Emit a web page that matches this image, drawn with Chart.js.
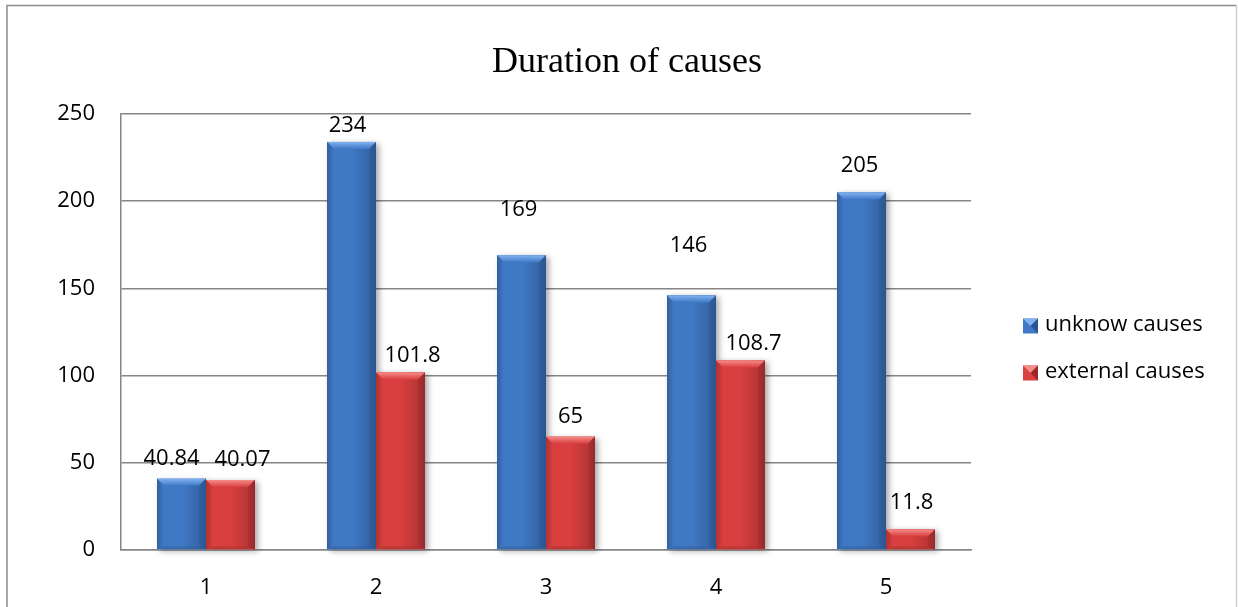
<!DOCTYPE html>
<html>
<head>
<meta charset="utf-8">
<title>Duration of causes</title>
<script src="https://cdn.jsdelivr.net/npm/chart.js@4.4.1/dist/chart.umd.min.js"></script>
<style>
  html, body { margin: 0; padding: 0; background: #fff; }
  #wrap { position: relative; width: 1238px; height: 607px; }
</style>
</head>
<body>
<div id="wrap"><canvas id="chart" width="1238" height="607"></canvas></div>
<script>
// Chart content
const chartTitle = 'Duration of causes';
const categories = ['1', '2', '3', '4', '5'];
const seriesNames = ['unknow causes', 'external causes'];
const unknowCauses = [40.84, 234, 169, 146, 205];
const externalCauses = [40.07, 101.8, 65, 108.7, 11.8];
const yTicks = [0, 50, 100, 150, 200, 250];

// Value label placement: shift (px) from the top-centre of each bar
const labelShift = [
  { dx: [-10, -4, -3, -3, -2], dy: [-20, -16, -46, -50, -27] },
  { dx: [12, 12, 0, 13, 1], dy: [-20, -17, -20, -17, -27] }
];

const FONT = '"Open Sans", "Liberation Sans", sans-serif';
const palette = [
  { body: '#3f79c6', light: '#82b3f0', dark: '#2a5592', edge: '#335f9c' },
  { body: '#d83f3e', light: '#f68b89', dark: '#98282a', edge: '#ad3233' }
];

function ok(v) { return Number.isFinite(v); }

// Frame, soft bar shadows and bevelled bar faces
const decor = {
  id: 'decor',
  beforeDraw(chart) {
    const ctx = chart.ctx;
    ctx.save();
    ctx.fillStyle = '#fff';
    ctx.fillRect(0, 0, chart.width, chart.height);
    ctx.strokeStyle = '#8c8c8c';
    ctx.lineWidth = 1.5;
    ctx.beginPath();
    ctx.moveTo(7, chart.height + 2);
    ctx.lineTo(7, 5.5);
    ctx.lineTo(1236.5, 5.5);
    ctx.stroke();
    ctx.strokeStyle = '#cfcfcf';
    ctx.beginPath();
    ctx.moveTo(1236.5, 5.5);
    ctx.lineTo(1236.5, chart.height + 2);
    ctx.stroke();
    ctx.restore();
  },
  beforeDatasetsDraw(chart) {
    const ctx = chart.ctx;
    ctx.save();
    chart.data.datasets.forEach((ds, di) => {
      chart.getDatasetMeta(di).data.forEach(el => {
        if (!ok(el.x) || !ok(el.y) || !ok(el.base)) return;
        const l = el.x - el.width / 2, w = el.width, t = el.y, h = el.base - el.y;
        ctx.shadowColor = 'rgba(0,0,0,0.35)';
        ctx.shadowBlur = 6;
        ctx.shadowOffsetX = 3;
        ctx.shadowOffsetY = 2;
        ctx.fillStyle = '#ffffff';
        ctx.fillRect(l, t, w, h);
      });
    });
    ctx.restore();
  },
  afterDatasetsDraw(chart) {
    const ctx = chart.ctx;
    ctx.save();
    chart.data.datasets.forEach((ds, di) => {
      const c = palette[di];
      chart.getDatasetMeta(di).data.forEach(el => {
        if (!ok(el.x) || !ok(el.y) || !ok(el.base)) return;
        const l = el.x - el.width / 2, r = el.x + el.width / 2, t = el.y, b = el.base;
        const bv = Math.min(7, (b - t) / 2);
        // face
        const gf = ctx.createLinearGradient(l, 0, r, 0);
        gf.addColorStop(0, c.body);
        gf.addColorStop(0.5, c.body);
        gf.addColorStop(1, c.edge);
        ctx.fillStyle = gf;
        ctx.fillRect(l, t, r - l, b - t);
        // top bevel
        const gt = ctx.createLinearGradient(0, t, 0, t + bv);
        gt.addColorStop(0, c.light);
        gt.addColorStop(1, c.body);
        ctx.fillStyle = gt;
        ctx.beginPath();
        ctx.moveTo(l, t); ctx.lineTo(r, t); ctx.lineTo(r - bv, t + bv); ctx.lineTo(l + bv, t + bv);
        ctx.closePath(); ctx.fill();
        // right bevel
        const gr = ctx.createLinearGradient(r - bv, 0, r, 0);
        gr.addColorStop(0, c.edge);
        gr.addColorStop(1, c.dark);
        ctx.fillStyle = gr;
        ctx.beginPath();
        ctx.moveTo(r, t); ctx.lineTo(r, b); ctx.lineTo(r - bv, b - bv * 0.4); ctx.lineTo(r - bv, t + bv);
        ctx.closePath(); ctx.fill();
        // left bevel
        const gl = ctx.createLinearGradient(l, 0, l + bv, 0);
        gl.addColorStop(0, c.edge);
        gl.addColorStop(1, c.body);
        ctx.fillStyle = gl;
        ctx.beginPath();
        ctx.moveTo(l, t); ctx.lineTo(l + bv, t + bv); ctx.lineTo(l + bv, b - bv * 0.4); ctx.lineTo(l, b);
        ctx.closePath(); ctx.fill();
        // bottom bevel
        ctx.fillStyle = c.edge;
        ctx.globalAlpha = 0.6;
        ctx.beginPath();
        ctx.moveTo(l, b); ctx.lineTo(r, b); ctx.lineTo(r - bv, b - bv * 0.4); ctx.lineTo(l + bv, b - bv * 0.4);
        ctx.closePath(); ctx.fill();
        ctx.globalAlpha = 1;
      });
    });
    ctx.restore();
  }
};

// Value labels, title and legend
const annotate = {
  id: 'annotate',
  afterDraw(chart) {
    const ctx = chart.ctx;
    ctx.save();
    ctx.fillStyle = '#000';
    ctx.textAlign = 'center';
    ctx.textBaseline = 'middle';
    ctx.font = '22px ' + FONT;
    chart.data.datasets.forEach((ds, di) => {
      chart.getDatasetMeta(di).data.forEach((el, i) => {
        if (!ok(el.x) || !ok(el.y)) return;
        const s = labelShift[di];
        ctx.fillText(String(ds.data[i]), el.x + s.dx[i], el.y + s.dy[i]);
      });
    });

    // title
    ctx.font = '36px "Liberation Serif", "Times New Roman", serif';
    ctx.textBaseline = 'alphabetic';
    ctx.fillText(chartTitle, 627, 72);

    // legend
    ctx.font = '22px ' + FONT;
    ctx.textAlign = 'left';
    ctx.textBaseline = 'middle';
    const rows = [325, 372];
    chart.data.datasets.forEach((ds, di) => {
      const c = palette[di];
      const y = rows[di], x = 1023, s = 15;
      const top = y - s / 2 + 1;
      ctx.fillStyle = c.body;
      ctx.fillRect(x, top, s, s);
      ctx.fillStyle = c.light;
      ctx.beginPath();
      ctx.moveTo(x, top); ctx.lineTo(x + s, top); ctx.lineTo(x + s / 2, top + s / 2);
      ctx.closePath(); ctx.fill();
      ctx.fillStyle = c.dark;
      ctx.beginPath();
      ctx.moveTo(x + s, top); ctx.lineTo(x + s, top + s); ctx.lineTo(x + s / 2, top + s / 2);
      ctx.closePath(); ctx.fill();
      ctx.fillStyle = '#000';
      ctx.fillText(ds.label, 1045, y);
    });
    ctx.restore();
  }
};

new Chart(document.getElementById('chart'), {
  type: 'bar',
  data: {
    labels: categories,
    datasets: [
      { label: seriesNames[0], data: unknowCauses, backgroundColor: palette[0].body, borderWidth: 0 },
      { label: seriesNames[1], data: externalCauses, backgroundColor: palette[1].body, borderWidth: 0 }
    ]
  },
  options: {
    responsive: false,
    animation: false,
    events: [],
    layout: { padding: { top: 114, right: 267, left: 0, bottom: 0 } },
    datasets: { bar: { categoryPercentage: 0.576, barPercentage: 1.0 } },
    plugins: {
      legend: { display: false },
      title: { display: false },
      tooltip: { enabled: false }
    },
    scales: {
      x: {
        grid: { display: false, drawTicks: false },
        border: { display: true, color: '#868686', width: 1.5 },
        ticks: { color: '#000', font: { family: FONT, size: 22 }, padding: 25, maxRotation: 0 },
        afterFit(scale) { scale.height = 57; }
      },
      y: {
        min: 0,
        max: 250,
        afterBuildTicks(scale) { scale.ticks = yTicks.map(v => ({ value: v })); },
        grid: { color: '#868686', lineWidth: 1.5, drawTicks: false },
        border: { display: true, color: '#868686', width: 1.5 },
        ticks: { color: '#000', font: { family: FONT, size: 22 }, padding: 26 },
        afterFit(scale) { scale.width = 121; }
      }
    }
  },
  plugins: [decor, annotate]
});
</script>
</body>
</html>
